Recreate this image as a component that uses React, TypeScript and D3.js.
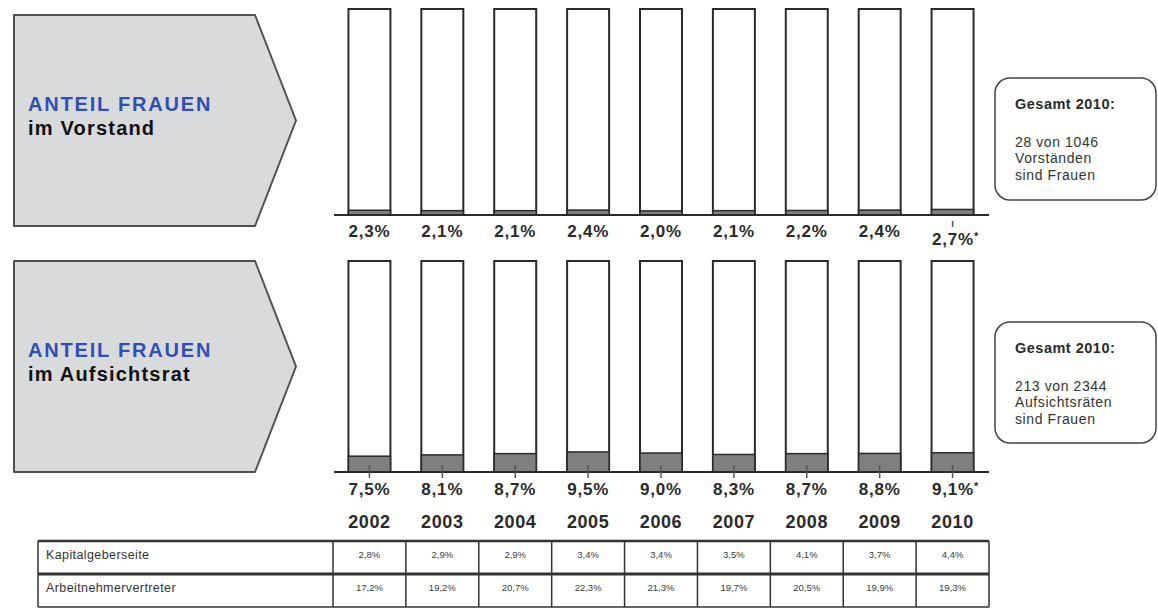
import React from "react";
import * as d3 from "d3";

const years = ["2002", "2003", "2004", "2005", "2006", "2007", "2008", "2009", "2010"];
const vorstand = [2.3, 2.1, 2.1, 2.4, 2.0, 2.1, 2.2, 2.4, 2.7];
const aufsichtsrat = [7.5, 8.1, 8.7, 9.5, 9.0, 8.3, 8.7, 8.8, 9.1];
const kapitalgeber = [2.8, 2.9, 2.9, 3.4, 3.4, 3.5, 4.1, 3.7, 4.4];
const arbeitnehmer = [17.2, 19.2, 20.7, 22.3, 21.3, 19.7, 20.5, 19.9, 19.3];
const footnoteYear = "2010";
const tableRows = [
  { label: "Kapitalgeberseite", values: kapitalgeber },
  { label: "Arbeitnehmervertreter", values: arbeitnehmer },
];
const panels = [
  { title: "ANTEIL FRAUEN", sub: "im Vorstand", values: vorstand, box: ["28 von 1046", "Vorständen", "sind Frauen"] },
  { title: "ANTEIL FRAUEN", sub: "im Aufsichtsrat", values: aufsichtsrat, box: ["213 von 2344", "Aufsichtsräten", "sind Frauen"] },
];

const W = 1158;
const H = 609;
const FONT = "Liberation Sans, Arial, sans-serif";
const fmt = (v: number) => d3.format(".1f")(v).replace(".", ",") + "%";

export default function App() {
  const x = d3.scaleBand<string>().domain(years).range([333, 989]).paddingInner(0).paddingOuter(0);
  const step = x.step();
  const bw = step * 0.576;
  const cx = (y: string) => (x(y) as number) + step / 2;

  const layouts = [
    { top: 15, bottom: 226, barTop: 9, base: 215, labelY: 237, boxTop: 78, boxH: 122 },
    { top: 261, bottom: 472, barTop: 261, base: 472, labelY: 495, boxTop: 322, boxH: 121 },
  ];

  const tableTop = 541;
  const rowH = 33;

  return (
    <svg width={W} height={H} style={{ position: "absolute", left: 0, top: 0, background: "#fff" }} fontFamily={FONT}>
      <rect x={0} y={0} width={W} height={H} fill="#fff" />
      {panels.map((p, pi) => {
        const L = layouts[pi];
        const yScale = d3.scaleLinear().domain([0, 100]).range([L.base, L.barTop]);
        const mid = (L.top + L.bottom) / 2;
        const arrow = d3.line()([
          [14, L.top],
          [255, L.top],
          [296, mid],
          [255, L.bottom],
          [14, L.bottom],
        ]) + "Z";
        return (
          <g key={pi}>
            <path d={arrow} fill="#d9dadc" stroke="#505050" strokeWidth={2} strokeLinejoin="round" />
            <text x={28} y={mid - 10} fontSize={20} fontWeight="bold" fill="#2f4fb5" letterSpacing={1.8}>
              {p.title}
            </text>
            <text x={28} y={mid + 14} fontSize={20} fontWeight="bold" fill="#111" letterSpacing={1.2}>
              {p.sub}
            </text>
            {years.map((yr, i) => {
              const v = p.values[i];
              const bx = cx(yr) - bw / 2;
              return (
                <g key={yr}>
                  <rect x={bx} y={yScale(100)} width={bw} height={yScale(0) - yScale(100)} fill="#fff" stroke="#2a2a2a" strokeWidth={2} />
                  <rect x={bx} y={yScale(v)} width={bw} height={yScale(0) - yScale(v)} fill="#7f7f7f" stroke="#2a2a2a" strokeWidth={1.5} />
                </g>
              );
            })}
            <line x1={334} x2={989} y1={L.base} y2={L.base} stroke="#2a2a2a" strokeWidth={2} />
            {years.map((yr, i) => {
              const isFoot = yr === footnoteYear;
              const ly = pi === 0 && isFoot ? L.labelY + 8 : L.labelY;
              const showTick = pi === 1 || isFoot;
              return (
                <g key={"l" + yr}>
                  {showTick && (
                    <line
                      x1={cx(yr)}
                      x2={cx(yr)}
                      y1={pi === 1 ? L.base - 7 : L.base + 6}
                      y2={pi === 1 ? L.base + 6 : L.base + 12}
                      stroke="#555"
                      strokeWidth={1.5}
                    />
                  )}
                  <text x={cx(yr) + (isFoot ? 3 : 0)} y={ly} fontSize={17} fontWeight="bold" fill="#2a2a2a" textAnchor="middle" letterSpacing={0.8}>
                    {fmt(p.values[i])}
                    {isFoot && (
                      <tspan fontSize={11} dy={-5}>
                        *
                      </tspan>
                    )}
                  </text>
                </g>
              );
            })}
            <rect x={995} y={L.boxTop} width={161} height={L.boxH} rx={15} ry={15} fill="#fff" stroke="#444" strokeWidth={1.5} />
            <text x={1015} y={L.boxTop + 31} fontSize={14.5} fontWeight="bold" fill="#2a2a2a" letterSpacing={0.5}>
              Gesamt 2010:
            </text>
            {p.box.map((t, j) => (
              <text key={j} x={1015} y={L.boxTop + 69 + j * 16.3} fontSize={14} fill="#333" letterSpacing={0.6}>
                {t}
              </text>
            ))}
          </g>
        );
      })}
      {years.map((yr) => (
        <text key={"y" + yr} x={cx(yr)} y={528} fontSize={18} fontWeight="bold" fill="#2a2a2a" textAnchor="middle" letterSpacing={0.6}>
          {yr}
        </text>
      ))}
      {/* table */}
      <g>
        <line x1={38} x2={989} y1={tableTop} y2={tableTop} stroke="#333" strokeWidth={2.5} />
        <line x1={38} x2={989} y1={tableTop + rowH} y2={tableTop + rowH} stroke="#333" strokeWidth={3} />
        <line x1={38} x2={989} y1={tableTop + 2 * rowH} y2={tableTop + 2 * rowH} stroke="#333" strokeWidth={1.5} />
        <line x1={38} x2={38} y1={tableTop} y2={tableTop + 2 * rowH} stroke="#333" strokeWidth={1.5} />
        {years.map((yr) => (
          <line key={"c" + yr} x1={x(yr) as number} x2={x(yr) as number} y1={tableTop} y2={tableTop + 2 * rowH} stroke="#333" strokeWidth={1.5} />
        ))}
        <line x1={989} x2={989} y1={tableTop} y2={tableTop + 2 * rowH} stroke="#333" strokeWidth={1.5} />
        {tableRows.map((r, ri) => (
          <g key={r.label}>
            <text x={46} y={tableTop + ri * rowH + 15} fontSize={12.5} fill="#333" dominantBaseline="middle" letterSpacing={0.4}>
              {r.label}
            </text>
            {years.map((yr, i) => (
              <text key={yr} x={cx(yr)} y={tableTop + ri * rowH + 14} fontSize={9.5} fill="#3a3a3a" textAnchor="middle" dominantBaseline="middle">
                {fmt(r.values[i])}
              </text>
            ))}
          </g>
        ))}
      </g>
    </svg>
  );
}
